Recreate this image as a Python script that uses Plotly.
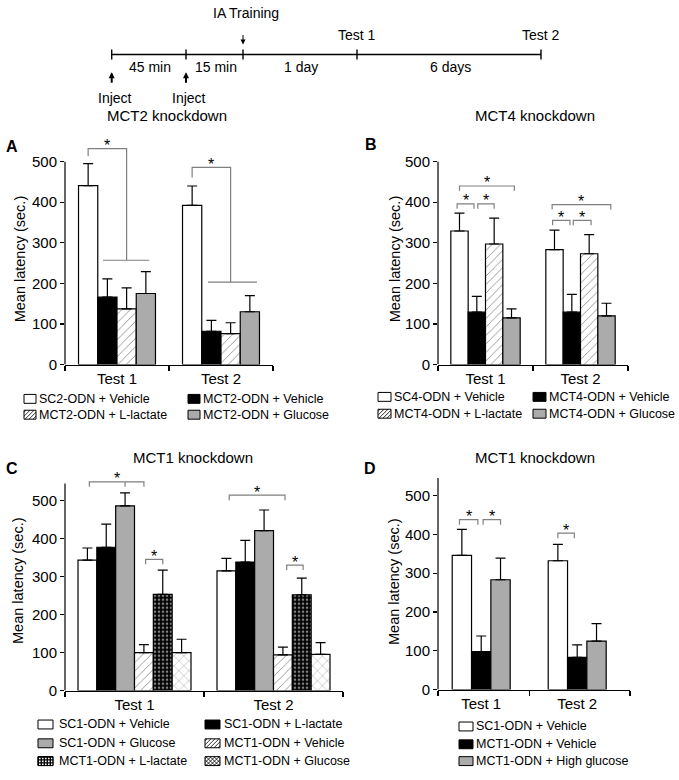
import plotly.graph_objects as go

W, H = 679, 780
FONT = "Arial, 'Liberation Sans', sans-serif"
GRAY = "#ababab"
BRK = "#808080"

TESTS = ["Test 1", "Test 2"]
Y_TICKS = [0, 100, 200, 300, 400, 500]
Y_TITLE = "Mean latency (sec.)"

A_TITLE = "MCT2 knockdown"
A_NAMES = ["SC2-ODN + Vehicle", "MCT2-ODN + Vehicle", "MCT2-ODN + L-lactate", "MCT2-ODN + Glucose"]
A_MEAN = [[441, 392], [166, 82], [137, 76], [175, 130]]
A_SEM = [[54, 48], [45, 27], [52, 27], [54, 40]]
A_STYLE = ["white", "black", "hatch", "gray"]

B_TITLE = "MCT4 knockdown"
B_NAMES = ["SC4-ODN + Vehicle", "MCT4-ODN + Vehicle", "MCT4-ODN + L-lactate", "MCT4-ODN + Glucose"]
B_MEAN = [[329, 283], [129, 129], [297, 273], [115, 120]]
B_SEM = [[44, 48], [39, 44], [64, 47], [22, 31]]
B_STYLE = ["white", "black", "hatch", "gray"]

C_TITLE = "MCT1 knockdown"
C_NAMES = ["SC1-ODN + Vehicle", "SC1-ODN + L-lactate", "SC1-ODN + Glucose",
           "MCT1-ODN + Vehicle", "MCT1-ODN + L-lactate", "MCT1-ODN + Glucose"]
C_MEAN = [[343, 315], [377, 338], [486, 421], [100, 94], [253, 252], [100, 95]]
C_SEM = [[32, 33], [61, 57], [34, 54], [21, 20], [64, 44], [35, 31]]
C_STYLE = ["white", "black", "gray", "hatch", "grid", "cross"]

D_TITLE = "MCT1 knockdown"
D_NAMES = ["SC1-ODN + Vehicle", "MCT1-ODN + Vehicle", "MCT1-ODN + High glucose"]
D_MEAN = [[346, 332], [98, 83], [283, 125]]
D_SEM = [[67, 42], [40, 32], [56, 45]]
D_STYLE = ["white", "black", "gray"]

TIMELINE_TICKS = ["", "", "", "Test 1", "Test 2"]
TIMELINE_SPANS = ["45 min", "15 min", "1 day", "6 days"]

STYLES = {
    "white": dict(color="white"),
    "black": dict(color="black"),
    "gray": dict(color=GRAY),
    "hatch": dict(color="white", pattern=dict(shape="/", fgcolor="black", bgcolor="white", size=6, solidity=0.13)),
    "grid": dict(color="black", pattern=dict(shape=".", fgcolor="white", bgcolor="black", size=4, solidity=0.35)),
    "cross": dict(color="white", pattern=dict(shape="x", fgcolor="black", bgcolor="white", size=7, solidity=0.1)),
}


def X(px):
    return px / W


def Y(py):
    return 1 - py / H


PANELS = [
    dict(n=1, letter="A", title=A_TITLE, names=A_NAMES, mean=A_MEAN, sem=A_SEM, style=A_STYLE,
         xpx=(65, 273), rng=(-0.5, 1.5), zero=368.3, ppu=0.41, ytop=500, gw=0.74,
         title_xy=(167, 117), letter_xy=(12, 148), ytitle_xy=(20, 262),
         leg=dict(cols=[(24, 37), (188, 201)], rows=[403, 419], sw=12, ncol=2),
         brackets=[
             dict(kind="fan", g=0, i=0, j=2, yl=513, yt=532, yb=257, base=(-0.135, 0.31)),
             dict(kind="fan", g=1, i=0, j=2, yl=461, yt=486, yb=203, base=(-0.125, 0.346)),
         ]),
    dict(n=2, letter="B", title=B_TITLE, names=B_NAMES, mean=B_MEAN, sem=B_SEM, style=B_STYLE,
         xpx=(438, 628), rng=(-0.5, 1.5), zero=368.3, ppu=0.41, ytop=500, gw=0.73,
         title_xy=(535, 117), letter_xy=(371, 146), ytitle_xy=(395, 262),
         leg=dict(cols=[(378, 392), (533, 547)], rows=[401, 418], sw=13, ncol=2),
         brackets=[
             dict(kind="pair", g=0, i=0, j=3, y=440, d=(0.0, 0.03), leg=12),
             dict(kind="pair", g=0, i=0, j=1, y=396, d=(-0.025, -0.03), leg=12),
             dict(kind="pair", g=0, i=1, j=2, y=396, d=(0.01, 0.0), leg=12),
             dict(kind="pair", g=1, i=0, j=3, y=394, d=(-0.025, 0.045), leg=12),
             dict(kind="pair", g=1, i=0, j=1, y=355, d=(-0.02, -0.02), leg=12),
             dict(kind="pair", g=1, i=1, j=2, y=355, d=(0.015, 0.02), leg=12),
         ]),
    dict(n=3, letter="C", title=C_TITLE, names=C_NAMES, mean=C_MEAN, sem=C_SEM, style=C_STYLE,
         xpx=(65, 343), rng=(-0.5, 1.5), zero=697.7, ppu=0.384, ytop=545, gw=0.813,
         title_xy=(193, 462), letter_xy=(12, 473), ytitle_xy=(18, 587),
         leg=dict(cols=[(38, 57), (205, 222)], rows=[732, 751, 769], sw=15, ncol=2),
         brackets=[
             dict(kind="pair", g=0, i=0, j=3, y=549, d=(0.014, 0.0), leg=13, mid=2),
             dict(kind="pair", g=0, i=3, j=4, y=345, d=(0.012, 0.0), leg=13),
             dict(kind="pair", g=1, i=0, j=3, y=514, d=(0.02, 0.015), leg=13),
             dict(kind="pair", g=1, i=3, j=4, y=330, d=(0.027, 0.01), leg=13),
         ]),
    dict(n=4, letter="D", title=D_TITLE, names=D_NAMES, mean=D_MEAN, sem=D_SEM, style=D_STYLE,
         xpx=(438, 630), rng=(-0.45, 1.55), zero=696.7, ppu=0.392, ytop=545, gw=0.604,
         title_xy=(535, 462), letter_xy=(370, 473), ytitle_xy=(394, 588),
         leg=dict(cols=[(459, 474)], rows=[734, 752, 769], sw=14, ncol=1),
         brackets=[
             dict(kind="pair", g=0, i=0, j=1, y=438, d=(-0.025, -0.035), leg=13),
             dict(kind="pair", g=0, i=1, j=2, y=438, d=(0.02, 0.0), leg=13),
             dict(kind="pair", g=1, i=0, j=1, y=403, d=(0.0, -0.03), leg=13),
         ]),
]

fig = go.Figure()
shapes = []
annotations = []
layout_axes = {}


def center(g, i, n, gw):
    return g - gw / 2 + (i + 0.5) * gw / n


def text(x, y, s, size=14, xanchor="center", angle=0):
    annotations.append(dict(xref="paper", yref="paper", x=X(x), y=Y(y), text=s, showarrow=False,
                            xanchor=xanchor, yanchor="middle", textangle=angle,
                            font=dict(size=size, color="black")))


def star(xr, yr, x, y, size=16):
    annotations.append(dict(xref=xr, yref=yr, x=x, y=y, text="*", showarrow=False,
                            xanchor="center", yanchor="middle", yshift=3, borderpad=0,
                            font=dict(size=size, color="black")))


def swatch(x0, yc, w, h, kind):
    y0 = yc - h / 2
    fill = {"white": "white", "black": "black", "gray": GRAY, "grid": "black"}.get(kind, "white")
    out = [dict(type="rect", xref="paper", yref="paper", x0=X(x0), x1=X(x0 + w),
                y0=Y(y0 + h), y1=Y(y0), fillcolor=fill, line=dict(color="black", width=1))]
    segs = []
    step = 4.0
    if kind in ("hatch", "cross"):
        c = x0 + y0 + step / 2
        while c < x0 + w + y0 + h:
            pa = max(x0, c - (y0 + h))
            pb = min(x0 + w, c - y0)
            if pb > pa:
                segs.append((pa, c - pa, pb, c - pb))
            c += step
    if kind == "cross":
        c = x0 - (y0 + h) + step / 2
        while c < x0 + w - y0:
            pa = max(x0, c + y0)
            pb = min(x0 + w, c + y0 + h)
            if pb > pa:
                segs.append((pa, pa - c, pb, pb - c))
            c += step
    if segs:
        path = " ".join(f"M{X(a)},{Y(b)} L{X(cc)},{Y(dd)}" for a, b, cc, dd in segs)
        out.append(dict(type="path", xref="paper", yref="paper", path=path,
                        line=dict(color="black", width=0.8)))
    if kind == "grid":
        sq = []
        cell = 3.0
        yy = y0 + 1.0
        while yy + 1.5 <= y0 + h:
            xx = x0 + 1.0
            while xx + 1.5 <= x0 + w:
                sq.append(f"M{X(xx)},{Y(yy)} L{X(xx + 1.6)},{Y(yy)} L{X(xx + 1.6)},{Y(yy + 1.6)} L{X(xx)},{Y(yy + 1.6)} Z")
                xx += cell
            yy += cell
        out.append(dict(type="path", xref="paper", yref="paper", path=" ".join(sq),
                        fillcolor="white", line=dict(width=0)))
        out.append(dict(type="rect", xref="paper", yref="paper", x0=X(x0), x1=X(x0 + w),
                        y0=Y(y0 + h), y1=Y(y0), line=dict(color="black", width=1)))
    return out


for p in PANELS:
    n = p["n"]
    sx = "" if n == 1 else str(n)
    xr, yr = "x" + sx, "y" + sx
    k = len(p["names"])
    gw = p["gw"]
    bw = gw / k
    for i in range(k):
        st = STYLES[p["style"][i]]
        marker = dict(color=st["color"], line=dict(color="black", width=1.2))
        if "pattern" in st:
            marker["pattern"] = st["pattern"]
        fig.add_trace(go.Bar(
            x=[0, 1], y=p["mean"][i], name=p["names"][i],
            width=bw, offset=-gw / 2 + i * bw, marker=marker,
            error_y=dict(type="data", array=p["sem"][i], arrayminus=[0, 0], symmetric=False,
                         color="black", thickness=1.2, width=5),
            xaxis=xr, yaxis=yr, showlegend=False))

    ymax = 560
    layout_axes["xaxis" + sx] = dict(
        domain=[X(p["xpx"][0]), X(p["xpx"][1])], range=list(p["rng"]), anchor=yr,
        showline=True, linecolor="black", linewidth=1.2, ticks="",
        tickmode="array", tickvals=[0, 1], ticktext=TESTS,
        tickfont=dict(size=15, color="black"),
        minor=dict(tickmode="array", tickvals=[p["rng"][0], 0.5, p["rng"][1]], ticks="outside",
                   ticklen=5, tickwidth=1.2, tickcolor="black"),
        showgrid=False, zeroline=False, fixedrange=True)
    layout_axes["yaxis" + sx] = dict(
        domain=[Y(p["zero"]), Y(p["zero"] - ymax * p["ppu"])], range=[0, ymax], anchor=xr,
        showline=False, ticks="outside", ticklen=4, tickwidth=1.2, tickcolor="black",
        tickmode="array", tickvals=Y_TICKS, tickfont=dict(size=15, color="black"),
        showgrid=False, zeroline=False, fixedrange=True)
    shapes.append(dict(type="line", xref=xr + " domain", yref=yr, x0=0, x1=0, y0=0, y1=p["ytop"],
                       line=dict(color="black", width=1.2)))

    for b in p["brackets"]:
        g = b["g"]
        if b["kind"] == "fan":
            xl = center(g, b["i"], k, gw)
            xt = center(g, b["j"], k, gw)
            path = (f"M{xl},{b['yl']} L{xl},{b['yt']} L{xt},{b['yt']} L{xt},{b['yb']} "
                    f"M{g + b['base'][0]},{b['yb']} L{g + b['base'][1]},{b['yb']}")
            shapes.append(dict(type="path", xref=xr, yref=yr, path=path, line=dict(color=BRK, width=1.2)))
            star(xr, yr, (xl + xt) / 2, b["yt"])
        else:
            x0 = center(g, b["i"], k, gw) + b["d"][0]
            x1 = center(g, b["j"], k, gw) + b["d"][1]
            y = b["y"]
            lg = b["leg"]
            path = f"M{x0},{y - lg} L{x0},{y} L{x1},{y} L{x1},{y - lg}"
            if "mid" in b:
                xm = center(g, b["mid"], k, gw)
                path += f" M{xm},{y} L{xm},{y - lg}"
            shapes.append(dict(type="path", xref=xr, yref=yr, path=path, line=dict(color=BRK, width=1.2)))
            star(xr, yr, (x0 + x1) / 2, y)

    text(p["title_xy"][0], p["title_xy"][1], p["title"], size=15)
    text(p["letter_xy"][0], p["letter_xy"][1], "<b>" + p["letter"] + "</b>", size=16)
    text(p["ytitle_xy"][0], p["ytitle_xy"][1], Y_TITLE, size=14.5, angle=-90)

    lg = p["leg"]
    for i, name in enumerate(p["names"]):
        r, c = divmod(i, lg["ncol"])
        sx0, tx0 = lg["cols"][c]
        yc = lg["rows"][r]
        shapes.extend(swatch(sx0, yc, lg["sw"], 9, p["style"][i]))
        text(tx0, yc, name, size=12.5, xanchor="left")

# timeline
TL_Y = 55
TL_X = [111.7, 186, 243, 357, 541]
shapes.append(dict(type="line", xref="paper", yref="paper", x0=X(TL_X[0]), x1=X(TL_X[-1]),
                   y0=Y(TL_Y), y1=Y(TL_Y), line=dict(color="black", width=1.4)))
for tx, lab in zip(TL_X, TIMELINE_TICKS):
    shapes.append(dict(type="line", xref="paper", yref="paper", x0=X(tx), x1=X(tx),
                       y0=Y(TL_Y - 5), y1=Y(TL_Y + 5), line=dict(color="black", width=1.4)))
    if lab:
        text(tx, 35, lab, size=14)
for i, lab in enumerate(TIMELINE_SPANS):
    text((TL_X[i] + TL_X[i + 1]) / 2 + 1, 68, lab, size=14)
text(246, 13, "IA Training", size=14)
annotations.append(dict(xref="paper", yref="paper", x=X(TL_X[2]), y=Y(45), text="", showarrow=True,
                        ax=0, ay=-11, arrowhead=2, arrowsize=1, arrowwidth=1, arrowcolor="black"))
for tx in TL_X[:2]:
    annotations.append(dict(xref="paper", yref="paper", x=X(tx), y=Y(73), text="", showarrow=True,
                            ax=0, ay=12, arrowhead=2, arrowsize=0.6, arrowwidth=2, arrowcolor="black"))
    text(tx + 3, 99, "Inject", size=14)

fig.update_layout(
    width=W, height=H, margin=dict(l=0, r=0, t=0, b=0),
    paper_bgcolor="white", plot_bgcolor="rgba(0,0,0,0)",
    font=dict(family=FONT, color="black"),
    barmode="overlay", showlegend=False,
    shapes=shapes, annotations=annotations,
    **layout_axes)

fig.write_html("out.html", config={"displayModeBar": False, "staticPlot": True},
               post_script="document.body.style.margin='0';document.body.style.padding='0';")
